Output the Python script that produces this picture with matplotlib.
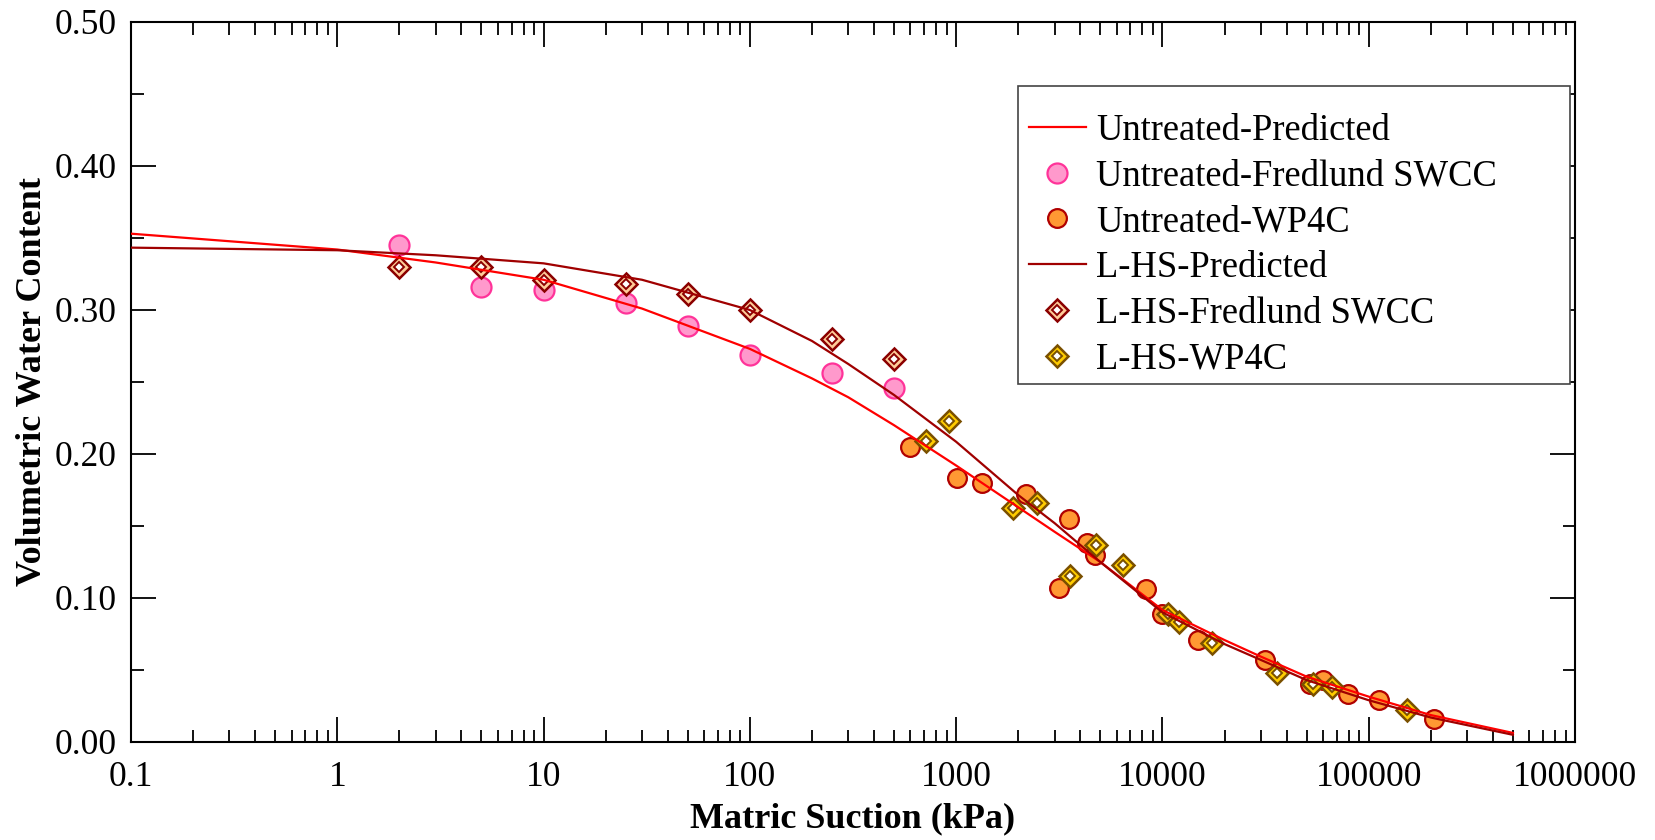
import matplotlib
matplotlib.use("Agg")
import matplotlib.pyplot as plt
from matplotlib.lines import Line2D
from matplotlib.patches import Rectangle
from matplotlib.legend_handler import HandlerTuple
from matplotlib.ticker import LogLocator, FixedLocator, FixedFormatter, MultipleLocator, FormatStrFormatter, NullFormatter

plt.rcParams['font.family'] = ['Liberation Serif', 'DejaVu Serif']

# Laboratory data: Fredlund SWCC device
suction_fredlund = [2, 5, 10, 25, 50, 100, 250, 500]
untreated_fredlund = [0.345, 0.316, 0.314, 0.305, 0.289, 0.269, 0.256, 0.246]
lhs_fredlund = [0.330, 0.330, 0.321, 0.318, 0.311, 0.300, 0.280, 0.266]

# WP4C dew-point potentiometer data
untreated_wp4c_suction = [597, 1010, 1340, 2180, 3160, 3530, 4300, 4710, 8280, 10000,
                          14900, 31400, 51900, 60200, 79000, 112500, 207000]
untreated_wp4c_vwc = [0.205, 0.183, 0.180, 0.172, 0.107, 0.155, 0.138, 0.130, 0.106, 0.089,
                      0.071, 0.057, 0.040, 0.043, 0.033, 0.029, 0.016]
lhs_wp4c_suction = [714, 927, 1880, 2470, 3560, 4740, 6460, 10660, 12070, 17300,
                    36100, 53800, 66100, 153800]
lhs_wp4c_vwc = [0.209, 0.223, 0.1625, 0.166, 0.115, 0.137, 0.123, 0.089, 0.083, 0.0685,
                0.048, 0.0405, 0.038, 0.022]

# Predicted SWCC curves
pred_suction = [0.1, 1, 3, 10, 30, 100, 200, 300, 500, 1000, 2000, 3000, 5000, 10000,
                20000, 30000, 50000, 100000, 200000, 500000]
untreated_pred = [0.353, 0.342, 0.333, 0.321, 0.301, 0.273, 0.2525, 0.2394, 0.220, 0.192,
                  0.163, 0.146, 0.125, 0.0917, 0.0708, 0.0593, 0.0454, 0.0315, 0.0187, 0.0063]
lhs_pred = [0.3433, 0.3415, 0.338, 0.3324, 0.321, 0.300, 0.2785, 0.2625, 0.241, 0.2085,
            0.1715, 0.152, 0.125, 0.090, 0.068, 0.057, 0.043, 0.029, 0.017, 0.005]

x_ticks = [0.1, 1, 10, 100, 1000, 10000, 100000, 1000000]
x_tick_labels = ["0.1", "1", "10", "100", "1000", "10000", "100000", "1000000"]

RED = "#FF0000"
DARK_RED = "#A00000"
PINK_FACE = "#FF99CC"
PINK_EDGE = "#FF3399"
ORANGE_FACE = "#FF9933"
ORANGE_EDGE = "#B00000"
LHS_EDGE = "#8B0000"
LHS_RING = "#FFCC99"
GOLD_EDGE = "#7A5000"
GOLD_RING = "#FFCC00"

W, H = 1656, 840
fig = plt.figure(figsize=(W / 100, H / 100), dpi=100)
ax = fig.add_axes([131 / W, 98 / H, 1444 / W, 720 / H])

circ_kw = dict(linestyle='none', marker='o')
outer_kw = dict(linestyle='none', marker='D', markersize=10.8, markeredgewidth=1.8)
inner_kw = dict(linestyle='none', marker='D', markersize=5.0, markeredgewidth=1.4,
                markerfacecolor='white')

ax.plot(suction_fredlund, untreated_fredlund, markersize=14.4, markerfacecolor=PINK_FACE,
        markeredgecolor=PINK_EDGE, markeredgewidth=1.6, zorder=3, **circ_kw)
ax.plot(untreated_wp4c_suction, untreated_wp4c_vwc, markersize=13.5, markerfacecolor=ORANGE_FACE,
        markeredgecolor=ORANGE_EDGE, markeredgewidth=1.6, zorder=3, **circ_kw)

ax.plot(suction_fredlund, lhs_fredlund, markerfacecolor=LHS_RING, markeredgecolor=LHS_EDGE,
        zorder=4, **outer_kw)
ax.plot(suction_fredlund, lhs_fredlund, markeredgecolor=LHS_EDGE, zorder=4.1, **inner_kw)
ax.plot(lhs_wp4c_suction, lhs_wp4c_vwc, markerfacecolor=GOLD_RING, markeredgecolor=GOLD_EDGE,
        zorder=4, **outer_kw)
ax.plot(lhs_wp4c_suction, lhs_wp4c_vwc, markeredgecolor=GOLD_EDGE, zorder=4.1, **inner_kw)

ax.plot(pred_suction, untreated_pred, color=RED, linewidth=1.6, zorder=5)
ax.plot(pred_suction, lhs_pred, color=DARK_RED, linewidth=1.6, zorder=5)

ax.set_xscale('log')
ax.set_xlim(0.1, 1000000)
ax.set_ylim(0.0, 0.5)

ax.xaxis.set_major_locator(FixedLocator(x_ticks))
ax.xaxis.set_major_formatter(FixedFormatter(x_tick_labels))
ax.xaxis.set_minor_locator(LogLocator(base=10, subs=range(2, 10), numticks=20))
ax.xaxis.set_minor_formatter(NullFormatter())
ax.yaxis.set_major_locator(MultipleLocator(0.1))
ax.yaxis.set_minor_locator(MultipleLocator(0.05))
ax.yaxis.set_major_formatter(FormatStrFormatter('%.2f'))

ax.tick_params(which='both', direction='in', top=True, right=True, width=1.3, color='black')
ax.tick_params(which='major', length=18, labelsize=25.5)
ax.tick_params(axis='x', which='major', pad=14)
ax.tick_params(axis='y', which='major', pad=10)
ax.tick_params(which='minor', length=9)
for s in ax.spines.values():
    s.set_linewidth(1.5)

ax.set_xlabel('Matric Suction (kPa)', fontsize=26, fontweight='bold', labelpad=6)
ax.set_ylabel('Volumetric Water Content', fontsize=26, fontweight='bold', labelpad=4)

# Legend entries; diamonds are a filled ring with a white core
h_untr_pred = Line2D([], [], color=RED, linewidth=1.6)
h_untr_fred = Line2D([], [], markersize=14.4, markerfacecolor=PINK_FACE,
                     markeredgecolor=PINK_EDGE, markeredgewidth=1.6, **circ_kw)
h_untr_wp = Line2D([], [], markersize=13.5, markerfacecolor=ORANGE_FACE,
                   markeredgecolor=ORANGE_EDGE, markeredgewidth=1.6, **circ_kw)
h_lhs_pred = Line2D([], [], color=DARK_RED, linewidth=1.6)
h_lhs_fred = (Line2D([], [], markerfacecolor=LHS_RING, markeredgecolor=LHS_EDGE, **outer_kw),
              Line2D([], [], markeredgecolor=LHS_EDGE, **inner_kw))
h_lhs_wp = (Line2D([], [], markerfacecolor=GOLD_RING, markeredgecolor=GOLD_EDGE, **outer_kw),
            Line2D([], [], markeredgecolor=GOLD_EDGE, **inner_kw))

leg = fig.legend([h_untr_pred, h_untr_fred, h_untr_wp, h_lhs_pred, h_lhs_fred, h_lhs_wp],
                 ['Untreated-Predicted', 'Untreated-Fredlund SWCC', 'Untreated-WP4C',
                  'L-HS-Predicted', 'L-HS-Fredlund SWCC', 'L-HS-WP4C'],
                 handler_map={tuple: HandlerTuple(ndivide=1, pad=0)},
                 loc='upper left', bbox_to_anchor=(1029 / W, 1 - 113 / H),
                 fontsize=26.3, frameon=False,
                 handlelength=1.55, handletextpad=0.28, borderpad=0,
                 labelspacing=0.31, borderaxespad=0)
leg.set_zorder(10)

# Legend frame drawn separately for independent horizontal/vertical padding
frame = Rectangle((1018 / W, 1 - 384 / H), (1570 - 1018) / W, (384 - 86) / H,
                  transform=fig.transFigure, facecolor='white', edgecolor='#444444',
                  linewidth=1.2, zorder=9)
fig.add_artist(frame)

fig.savefig('out.png', dpi=100)
